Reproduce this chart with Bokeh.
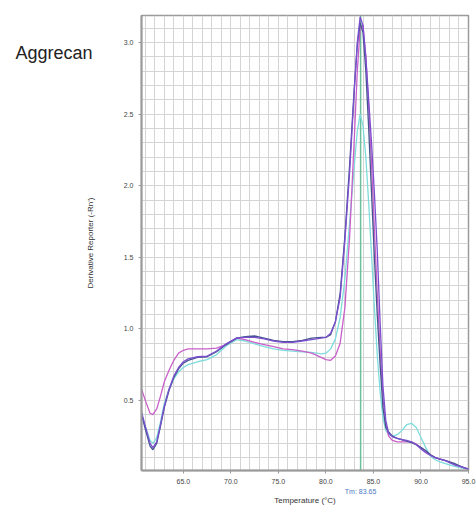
from bokeh.plotting import figure
from bokeh.models import (Range1d, FixedTicker, PrintfTickFormatter, Span, LinearAxis,
                          CustomJSTickFormatter)
from bokeh.embed import file_html
from bokeh.resources import INLINE
import numpy as np

title_text = "Aggrecan"
x_label = "Temperature (°C)"
y_label = "Derivative Reporter (-Rn')"
tm_value = 83.65
x_ticks = [65.0, 70.0, 75.0, 80.0, 85.0, 90.0, 95.0]
y_ticks = [0.5, 1.0, 1.5, 2.0, 2.5, 3.0]

temps = [60.6, 61.0, 61.5, 61.8, 62.2, 62.6, 63.0, 63.5, 64.0, 64.5, 65.0, 65.5,
         66.5, 67.5, 68.5, 69.5, 70.6, 71.5, 72.5, 73.5, 74.5, 75.5, 76.5, 77.5,
         78.5, 79.5, 80.0, 80.5, 81.0, 81.5, 82.0, 82.5, 83.0, 83.3, 83.6, 83.9,
         84.2, 84.5, 84.8, 85.1, 85.4, 85.7, 86.0, 86.3, 86.6, 87.0, 87.5, 88.0,
         88.5, 89.0, 89.5, 90.0, 90.5, 91.0, 91.5, 92.0, 92.5, 93.0, 93.5, 94.0,
         94.5, 95.0]

magenta = [0.58, 0.50, 0.41, 0.40, 0.44, 0.53, 0.63, 0.71, 0.78, 0.83, 0.85, 0.86,
           0.86, 0.86, 0.865, 0.89, 0.935, 0.925, 0.905, 0.89, 0.875, 0.86, 0.855, 0.845,
           0.83, 0.80, 0.785, 0.78, 0.81, 0.90, 1.15, 1.65, 2.35, 2.80, 3.10, 3.12,
           2.90, 2.55, 2.15, 1.70, 1.25, 0.85, 0.52, 0.33, 0.25, 0.22, 0.21, 0.21,
           0.21, 0.21, 0.195, 0.17, 0.145, 0.12, 0.10, 0.09, 0.08, 0.07, 0.055, 0.04,
           0.03, 0.02]

cyan = [0.40, 0.32, 0.22, 0.20, 0.24, 0.35, 0.48, 0.58, 0.65, 0.70, 0.73, 0.75,
        0.77, 0.785, 0.82, 0.88, 0.925, 0.915, 0.895, 0.875, 0.86, 0.85, 0.845, 0.84,
        0.835, 0.825, 0.83, 0.86, 0.93, 1.08, 1.35, 1.75, 2.15, 2.38, 2.50, 2.42,
        2.20, 1.88, 1.52, 1.15, 0.82, 0.56, 0.38, 0.29, 0.26, 0.25, 0.26, 0.29,
        0.33, 0.34, 0.31, 0.24, 0.17, 0.11, 0.085, 0.07, 0.06, 0.05, 0.04, 0.03,
        0.025, 0.02]

navy = [0.40, 0.30, 0.18, 0.155, 0.20, 0.32, 0.45, 0.57, 0.66, 0.72, 0.76, 0.78,
        0.80, 0.805, 0.84, 0.89, 0.935, 0.945, 0.95, 0.935, 0.92, 0.91, 0.91, 0.92,
        0.935, 0.94, 0.94, 0.96, 1.05, 1.25, 1.65, 2.15, 2.70, 2.98, 3.14, 3.07,
        2.80, 2.40, 1.95, 1.50, 1.10, 0.75, 0.45, 0.31, 0.28, 0.25, 0.235, 0.225,
        0.215, 0.205, 0.19, 0.17, 0.15, 0.12, 0.10, 0.09, 0.08, 0.07, 0.06, 0.045,
        0.03, 0.02]

purple = [0.42, 0.32, 0.20, 0.17, 0.21, 0.33, 0.46, 0.58, 0.67, 0.73, 0.77, 0.79,
          0.805, 0.81, 0.845, 0.895, 0.935, 0.94, 0.94, 0.93, 0.915, 0.905, 0.905, 0.915,
          0.925, 0.935, 0.94, 0.97, 1.05, 1.22, 1.62, 2.10, 2.68, 3.00, 3.18, 3.12,
          2.90, 2.60, 2.30, 1.95, 1.55, 1.05, 0.60, 0.36, 0.27, 0.245, 0.235, 0.225,
          0.22, 0.21, 0.19, 0.16, 0.135, 0.115, 0.10, 0.09, 0.08, 0.065, 0.05, 0.04,
          0.03, 0.02]

series = [(cyan, "#7fdcdc"), (magenta, "#c95fc9"), (navy, "#43558f"), (purple, "#7b4fd0")]

FONT = "Liberation Sans"

p = figure(width=476, height=510, output_backend="svg", toolbar_location=None,
           x_range=Range1d(60.6, 95.0), y_range=Range1d(0.01, 3.19),
           min_border_left=141, min_border_right=8, min_border_top=15,
           min_border_bottom=40)
p.background_fill_color = "white"
p.border_fill_color = "white"
p.outline_line_color = "#9a9a9a"
p.outline_line_width = 1.5

p.xgrid.ticker = FixedTicker(ticks=list(np.arange(61, 95, 1.0)))
p.ygrid.ticker = FixedTicker(ticks=list(np.round(np.arange(0.1, 3.15, 0.1), 2)))
for g in (p.xgrid, p.ygrid):
    g.grid_line_color = "#d4d4d4"
    g.grid_line_width = 1

p.xaxis.ticker = FixedTicker(ticks=x_ticks)
p.yaxis.ticker = FixedTicker(ticks=y_ticks)
p.xaxis.formatter = PrintfTickFormatter(format="%.1f")
p.yaxis.formatter = PrintfTickFormatter(format="%.1f")
for ax in (p.xaxis, p.yaxis):
    ax.axis_line_color = "#9a9a9a"
    ax.axis_line_width = 2
    ax.major_tick_line_color = "#9a9a9a"
    ax.major_tick_in = 0
    ax.major_tick_out = 3
    ax.minor_tick_line_color = None
    ax.major_label_text_font = FONT
    ax.major_label_text_font_size = "7px"
    ax.major_label_text_color = "#444444"
    ax.axis_label_text_font = FONT
    ax.axis_label_text_font_size = "8px"
    ax.axis_label_text_font_style = "normal"
    ax.axis_label_text_color = "#333333"
p.yaxis.axis_label = y_label
p.xaxis.major_label_standoff = 5
p.yaxis.major_label_standoff = 5
p.yaxis.axis_label_standoff = 26

# second bottom axis: carries the Tm label and the axis title
tm_axis = LinearAxis(ticker=FixedTicker(ticks=[tm_value]),
                     formatter=PrintfTickFormatter(format="Tm: %.2f"),
                     axis_label=x_label)
tm_axis.axis_line_color = None
tm_axis.major_tick_line_color = None
tm_axis.minor_tick_line_color = None
tm_axis.major_tick_out = 0
tm_axis.major_tick_in = 0
tm_axis.major_label_standoff = 1
tm_axis.major_label_text_font = FONT
tm_axis.major_label_text_font_size = "7px"
tm_axis.major_label_text_color = "#4a78c0"
tm_axis.axis_label_standoff = -2
tm_axis.axis_label_text_font = FONT
tm_axis.axis_label_text_font_size = "8px"
tm_axis.axis_label_text_font_style = "normal"
tm_axis.axis_label_text_color = "#333333"
p.add_layout(tm_axis, "below")

# second left axis: carries the gene name
name_axis = LinearAxis(ticker=FixedTicker(ticks=[2.93]),
                       formatter=CustomJSTickFormatter(args=dict(t=title_text),
                                                       code="return t;"))
name_axis.axis_line_color = None
name_axis.major_tick_line_color = None
name_axis.minor_tick_line_color = None
name_axis.major_tick_out = 0
name_axis.major_tick_in = 0
name_axis.major_label_standoff = -10
name_axis.major_label_text_font = FONT
name_axis.major_label_text_font_size = "18px"
name_axis.major_label_text_color = "#222222"
p.add_layout(name_axis, "left")

p.add_layout(Span(location=tm_value, dimension="height", line_color="#6cbf9c",
                  line_width=1.5, level="underlay"))

for vals, col in series:
    p.line(temps, vals, line_color=col, line_width=1.3)

open("out.html", "w").write(file_html(p, INLINE))
